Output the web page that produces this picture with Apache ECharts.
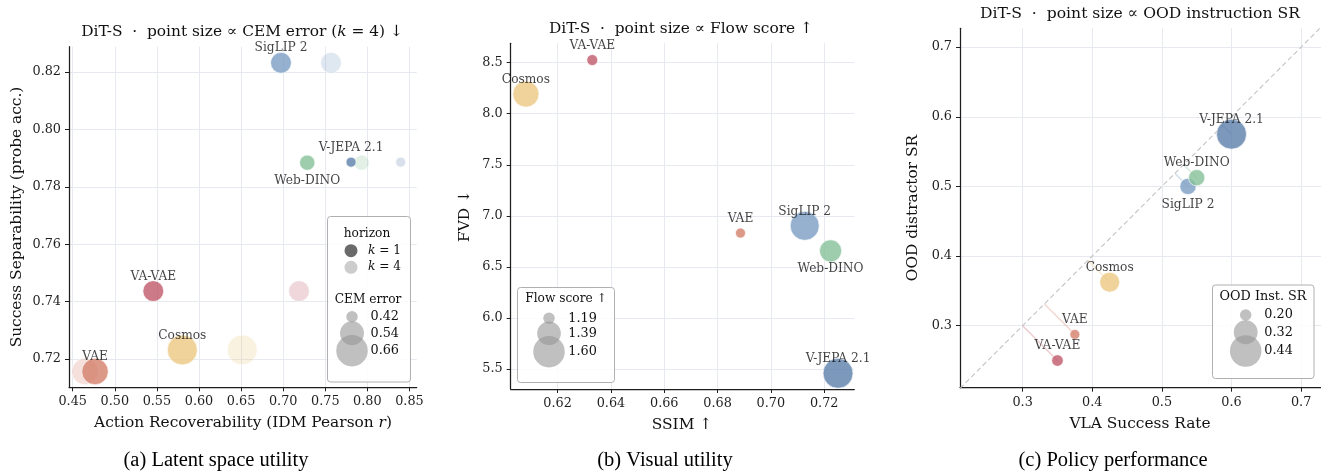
<!DOCTYPE html>
<html><head><meta charset="utf-8">
<script src="https://cdn.jsdelivr.net/npm/echarts@6/dist/echarts.min.js"></script>
<style>html,body{margin:0;padding:0;background:#fff}#c{width:1321px;height:473px}</style>
</head><body><div id="c"></div>
<script>
// ---------- data ----------
const models = ['VAE', 'VA-VAE', 'Cosmos', 'SigLIP 2', 'Web-DINO', 'V-JEPA 2.1'];
const colors = ['#d4806a', '#c0596a', '#ecc882', '#7b9ec3', '#86c09a', '#5b7fab'];

// (a) latent space utility
const aIdmK1 = [0.4765, 0.5457, 0.5802, 0.6974, 0.7286, 0.7806];
const aIdmK4 = [0.4646, 0.7188, 0.6514, 0.7568, 0.7932, 0.8396];
const aSep   = [0.7157, 0.7437, 0.7232, 0.8232, 0.7884, 0.7886];
const aCem   = [0.60, 0.52, 0.66, 0.52, 0.46, 0.42];
const aXTicks = [0.45, 0.50, 0.55, 0.60, 0.65, 0.70, 0.75, 0.80, 0.85];
const aYTicks = [0.72, 0.74, 0.76, 0.78, 0.80, 0.82];
const aLegendVals = [0.42, 0.54, 0.66];

// (b) visual utility
const bSsim = [0.6886, 0.6330, 0.6081, 0.7127, 0.7224, 0.7252];
const bFvd  = [6.831, 8.526, 8.193, 6.902, 6.657, 5.458];
const bFlow = [1.19, 1.20, 1.49, 1.57, 1.39, 1.60];
const bXTicks = [0.62, 0.64, 0.66, 0.68, 0.70, 0.72];
const bYTicks = [5.5, 6.0, 6.5, 7.0, 7.5, 8.0, 8.5];
const bLegendVals = [1.19, 1.39, 1.60];

// (c) policy performance
const cVla  = [0.375, 0.350, 0.425, 0.5375, 0.550, 0.600];
const cOod  = [0.2875, 0.250, 0.3625, 0.500, 0.5125, 0.575];
const cInst = [0.20, 0.21, 0.29, 0.25, 0.25, 0.44];
const cXTicks = [0.3, 0.4, 0.5, 0.6, 0.7];
const cYTicks = [0.3, 0.4, 0.5, 0.6, 0.7];
const cLegendVals = [0.20, 0.32, 0.44];

// label placement: 1 = above, -1 = below
const aLabelSide = [1, 1, 1, 1, -1, 1];
const bLabelSide = [1, 1, 1, 1, -1, 1];
const cLabelSide = [1, 1, 1, -1, 1, 1];

// ---------- helpers ----------
const FONT = 'DejaVu Serif';
const INK = '#111';
function sz(v, lo, hi) { const A0 = 100, A1 = 900; return Math.sqrt(A0 + (v - lo) / (hi - lo) * (A1 - A0)); }
function ext(arr) { return [Math.min(...arr), Math.max(...arr)]; }
function hexA(hex, a) {
  const n = parseInt(hex.slice(1), 16);
  return 'rgba(' + (n >> 16 & 255) + ',' + (n >> 8 & 255) + ',' + (n & 255) + ',' + a + ')';
}

function axis(gi, min, max, ticks, dec, isY) {
  return {
    type: 'value', gridIndex: gi, min: min, max: max,
    axisLine: { show: true, onZero: false, lineStyle: { color: '#1e1e1e', width: 1.25 } },
    axisTick: { show: true, customValues: ticks, length: 4, lineStyle: { color: '#1e1e1e', width: 1 } },
    axisLabel: { customValues: ticks, formatter: v => v.toFixed(dec), fontFamily: FONT, fontSize: 12.8, color: '#1e1e1e', margin: isY ? 8 : 8 },
    splitLine: { show: true, lineStyle: { color: '#e6e9f0', width: 1 } }
  };
}

function pointSeries(gi, xs, ys, vals, alpha, withLabel, sides, z) {
  const [lo, hi] = ext(vals);
  return {
    type: 'scatter', xAxisIndex: gi, yAxisIndex: gi, z: z,
    data: models.map((m, i) => ({
      name: m, value: [xs[i], ys[i], vals[i]],
      itemStyle: { color: hexA(colors[i], alpha) },
      label: withLabel ? { offset: [0, sides[i] > 0 ? -14.5 : 18] } : undefined
    })),
    symbolSize: v => sz(v[2], lo, hi),
    itemStyle: { borderColor: '#fff', borderWidth: 0.8 },
    label: { show: withLabel, position: 'inside', formatter: p => p.name, color: INK, fontFamily: FONT, fontSize: 12.2 },
    emphasis: { disabled: true }, silent: true
  };
}

function txt(x, y, text, size, opts) {
  opts = opts || {};
  const fam = opts.family || FONT;
  const fill = opts.fill || INK;
  return {
    type: 'text', x: x, y: y, rotation: opts.rot || 0, z: 100,
    style: {
      text: text, fontFamily: fam, fontSize: size, fill: fill,
      align: opts.align || 'center', verticalAlign: 'middle',
      rich: {
        n: { fontFamily: fam, fontSize: size, fill: fill },
        i: { fontFamily: fam, fontSize: size, fontStyle: 'italic', fill: fill }
      }
    }
  };
}

function legendBox(x0, y0, x1, y1) {
  return {
    type: 'rect', z: 90,
    shape: { x: x0, y: y0, width: x1 - x0, height: y1 - y0, r: 3 },
    style: { fill: 'rgba(255,255,255,0.85)', stroke: '#b0b0b0', lineWidth: 1 }
  };
}

function sizeItems(cx, ys, lx, vals, lo, hi) {
  const els = [];
  vals.forEach((v, k) => {
    els.push({ type: 'circle', z: 95, shape: { cx: cx, cy: ys[k], r: (sz(v, lo, hi) + 1.5) / 2 }, style: { fill: 'rgba(150,150,150,0.6)' } });
    els.push(txt(lx, ys[k], v.toFixed(2), 12.8, { align: 'left' }));
  });
  return els;
}

// ---------- option ----------
const chart = echarts.init(document.getElementById('c'), null, { renderer: 'canvas' });
const [aLo, aHi] = ext(aCem), [bLo, bHi] = ext(bFlow), [cLo, cHi] = ext(cInst);
const cMin = 0.21, cMax = 0.73;

const graphic = [
  // titles
  txt(242, 32, '{n|DiT-S  ·  point size ∝ CEM error (}{i|k}{n| = 4) ↓}', 15.4),
  txt(681, 29, 'DiT-S  ·  point size ∝ Flow score ↑', 15.4),
  txt(1140, 14, 'DiT-S  ·  point size ∝ OOD instruction SR', 15.6),
  // axis names
  txt(243, 423, '{n|Action Recoverability (IDM Pearson }{i|r}{n|)}', 15.4),
  txt(17, 217, 'Success Separability (probe acc.)', 15.4, { rot: Math.PI / 2 }),
  txt(682, 425, 'SSIM ↑', 15.4),
  txt(465, 216, 'FVD ↓', 15.4, { rot: Math.PI / 2 }),
  txt(1140, 424, 'VLA Success Rate', 15.4),
  txt(913, 208, 'OOD distractor SR', 15.4, { rot: Math.PI / 2 }),
  // sub-captions
  txt(216, 461, '(a) Latent space utility', 20.5, { family: 'Liberation Serif', fill: '#000' }),
  txt(665, 461, '(b) Visual utility', 20.5, { family: 'Liberation Serif', fill: '#000' }),
  txt(1113, 461, '(c) Policy performance', 20.5, { family: 'Liberation Serif', fill: '#000' })
];

// legend (a): horizon + CEM error
graphic.push(legendBox(327.5, 216.5, 410.5, 382));
graphic.push(txt(367, 234, 'horizon', 12.2));
graphic.push({ type: 'circle', z: 95, shape: { cx: 351, cy: 250.7, r: 6.5 }, style: { fill: 'rgba(90,90,90,0.9)' } });
graphic.push({ type: 'circle', z: 95, shape: { cx: 351, cy: 267.3, r: 6.5 }, style: { fill: 'rgba(90,90,90,0.3)' } });
graphic.push(txt(368, 250.7, '{i|k}{n| = 1}', 12.2, { align: 'left' }));
graphic.push(txt(368, 267.3, '{i|k}{n| = 4}', 12.2, { align: 'left' }));
graphic.push(txt(368, 300, 'CEM error', 12.2));
graphic.push(...sizeItems(352, [316.7, 333.3, 350.7], 370.5, aLegendVals, aLo, aHi));
// legend (b)
graphic.push(legendBox(517.5, 287.5, 614.5, 382.5));
graphic.push(txt(566, 298.7, 'Flow score ↑', 12.2));
graphic.push(...sizeItems(549, [318.3, 333.3, 351.7], 568.3, bLegendVals, bLo, bHi));
// legend (c)
graphic.push(legendBox(1212.5, 285, 1314, 378.5));
graphic.push(txt(1263, 297, 'OOD Inst. SR', 12.8));
graphic.push(...sizeItems(1245.7, [315, 332.3, 351], 1264.3, cLegendVals, cLo, cHi));

const option = {
  animation: false,
  backgroundColor: '#fff',
  grid: [
    { left: 69, top: 46.7, width: 347.7, height: 340.6, outerBoundsMode: 'none' },
    { left: 510.7, top: 43.3, width: 343.6, height: 345.7, outerBoundsMode: 'none' },
    { left: 960, top: 28.3, width: 362, height: 359.4, outerBoundsMode: 'none' }
  ],
  xAxis: [
    axis(0, 0.4456, 0.8586, aXTicks, 2, false),
    axis(1, 0.6024, 0.7313, bXTicks, 2, false),
    axis(2, cMin, cMax, cXTicks, 1, false)
  ],
  yAxis: [
    axis(0, 0.7102, 0.8288, aYTicks, 2, true),
    axis(1, 5.304, 8.69, bYTicks, 1, true),
    axis(2, 0.211, 0.727, cYTicks, 1, true)
  ],
  series: [
    pointSeries(0, aIdmK4, aSep, aCem, 0.3, false, aLabelSide, 2),
    pointSeries(0, aIdmK1, aSep, aCem, 1, true, aLabelSide, 3),
    pointSeries(1, bSsim, bFvd, bFlow, 1, true, bLabelSide, 3),
    {
      type: 'line', xAxisIndex: 2, yAxisIndex: 2, z: 1, silent: true,
      data: [[cMin, cMin], [cMax, cMax]], symbol: 'none',
      lineStyle: { color: '#c4c4c4', width: 1.1, type: [5, 3] }
    },
    {
      type: 'lines', coordinateSystem: 'cartesian2d', xAxisIndex: 2, yAxisIndex: 2, z: 1, silent: true,
      data: models.map((m, i) => {
        const mid = (cVla[i] + cOod[i]) / 2;
        return { coords: [[cVla[i], cOod[i]], [mid, mid]], lineStyle: { color: hexA(colors[i], 0.6) } };
      }),
      lineStyle: { width: 1.6 }
    },
    pointSeries(2, cVla, cOod, cInst, 1, true, cLabelSide, 3)
  ],
  graphic: graphic
};
chart.setOption(option);
</script>
</body></html>
